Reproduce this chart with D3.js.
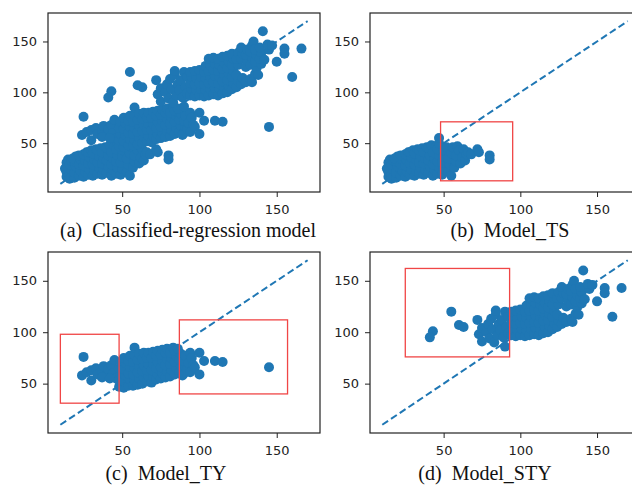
<!DOCTYPE html>
<html>
<head>
<meta charset="utf-8">
<script src="https://cdn.jsdelivr.net/npm/d3@7"></script>
<style>
  html, body { margin: 0; padding: 0; background: #fff; }
  svg { display: block; }
</style>
</head>
<body>
<svg id="fig" width="632" height="489"></svg>
<script>
// Actual (x) vs. predicted (y) values of each sub-model.
const modelTS = [
  [14,17],[14,22],[15,27],[14,31],[15,34],[13,25],
  [16,19],[17,24],[16,29],[17,33],[16,15],
  [19,16],[19,21],[20,27],[19,32],[20,37],[18,35],
  [22,18],[23,23],[22,29],[23,34],[22,38],
  [25,17],[26,22],[25,28],[26,33],[25,39],[27,41],
  [28,19],[29,24],[28,30],[29,36],[28,41],[30,43],
  [31,18],[32,23],[31,29],[32,34],[31,40],[33,44],
  [34,20],[35,26],[34,31],[35,37],[34,43],[36,45],
  [37,19],[38,24],[37,30],[38,35],[37,41],[39,46],
  [40,21],[41,27],[40,33],[41,38],[40,45],[42,48],
  [43,18],[44,24],[43,29],[44,35],[43,41],[45,47],
  [46,20],[47,26],[46,32],[47,38],[46,44],[47,50],[47,55],
  [49,19],[50,25],[49,31],[50,37],[50,43],[52,46],
  [53,22],[54,29],[53,35],[55,40],[56,46],[55,18],
  [57,26],[58,32],[58,38],[59,47],[60,43],[61,30],
  [62,36],[63,44],[64,33],[65,39],[66,41],[68,39],
  [72,44],[73,41],[80,38],[80,34]
];

const modelTY = [
  [25,76],[24,58],[30,53],[27,61],[30,63],[33,65],[34,59],[37,62],
  [38,67],[40,58],[41,64],[43,68],[45,73],[44,60],[46,55],[37,56],[42,55],
  [48,47],[48,53],[49,59],[48,65],[49,71],
  [51,46],[51,52],[52,58],[51,64],[52,70],[51,75],
  [54,48],[55,54],[54,60],[55,66],[54,72],[55,77],
  [57,48],[58,53],[57,59],[58,65],[57,71],[58,78],[58,85],
  [60,49],[61,55],[60,61],[61,67],[60,73],[61,79],
  [63,50],[64,56],[63,62],[64,68],[63,74],[64,80],
  [66,52],[67,57],[66,63],[67,69],[66,75],[67,80],
  [69,51],[70,57],[69,63],[70,69],[69,75],[70,81],
  [72,54],[73,59],[72,65],[73,71],[72,77],[73,82],
  [75,55],[76,60],[75,66],[76,72],[75,78],[76,83],
  [78,56],[79,62],[78,68],[79,74],[78,80],[79,84],
  [81,57],[82,63],[81,69],[82,75],[81,80],[83,85],
  [84,59],[85,65],[84,71],[85,77],[84,82],
  [87,61],[88,67],[87,73],[88,79],[86,84],
  [90,60],[91,66],[90,72],[91,77],[89,58],
  [94,80],[92,64],[93,70],[95,75],[96,68],[94,61],[97,66],
  [100,80],[100,59],[103,72],[110,72],[115,71],[145,66]
];

const modelSTY = [
  [43,101],[41,95],[55,120],[60,107],[63,105],[72,112],[73,98],[75,91],[75,104],
  [78,100],[79,108],[80,94],[81,113],[82,103],[83,90],[84,117],[85,97],[86,108],
  [87,102],[88,112],[89,95],[90,120],[90,86],[91,105],[92,115],[92,99],[84,121],
  [94,97],[95,103],[94,109],[95,115],[94,120],
  [97,96],[98,102],[97,108],[98,114],[97,121],
  [100,97],[101,103],[100,109],[101,115],[100,122],
  [103,96],[104,102],[103,108],[104,114],[103,120],[104,126],
  [106,97],[107,103],[106,109],[107,115],[106,121],[107,127],[106,133],
  [109,98],[110,104],[109,110],[110,116],[109,122],[110,128],[109,134],
  [112,97],[113,103],[112,109],[113,115],[112,121],[113,127],[112,133],
  [115,99],[116,105],[115,111],[116,117],[115,123],[116,129],[115,135],
  [118,100],[119,106],[118,112],[119,118],[118,124],[119,130],[118,136],
  [121,103],[122,109],[121,115],[122,121],[121,127],[122,133],[121,138],
  [124,105],[125,111],[124,117],[125,127],[124,133],[125,139],
  [127,108],[128,114],[127,133],[128,138],[127,144],
  [130,110],[130,125],[131,131],[130,137],[131,142],
  [133,113],[133,127],[134,134],[133,140],[134,146],
  [136,118],[137,124],[136,130],[137,136],[135,150],[136,142],
  [138,117],[140,128],[139,133],[140,139],[141,160],[139,144],
  [142,132],[145,142],[144,147],[147,146],[150,130],[155,143],[155,138],
  [160,115],[166,143],[134,110]
];

// The classified-regression model combines the three sub-models.
const modelClassified = modelTS.concat(modelTY, modelSTY);

const tickValues = [50, 100, 150];
const axisDomain = [2, 178];
const identityLine = [10, 170];

// Highlighted regions: [xMin, xMax, yMin, yMax]
const boxesTS = [[48, 95, 13, 71]];
const boxesTY = [[10, 48, 31, 98], [87, 157, 40, 112]];
const boxesSTY = [[25, 93, 76, 162]];

const captionLabels = ["(a)", "(b)", "(c)", "(d)"];
const captionTexts = ["Classified-regression model", "Model_TS", "Model_TY", "Model_STY"];

// Layout of the four panels (pixel frames) and caption anchors.
const panels = [
  { data: modelClassified, boxes: [],        frame: [48, 13, 320, 192],  cap: [188, 237] },
  { data: modelTS,         boxes: boxesTS,   frame: [370, 13, 640, 192], cap: [510, 237] },
  { data: modelTY,         boxes: boxesTY,   frame: [48, 252, 320, 433], cap: [166, 480] },
  { data: modelSTY,        boxes: boxesSTY,  frame: [370, 252, 640, 433], cap: [485, 480] }
];

const blue = "#1f77b4";
const red = "#f04646";
const ink = "#222";

const svg = d3.select("#fig");

panels.forEach((p, i) => {
  const [x0, y0, x1, y1] = p.frame;
  const x = d3.scaleLinear().domain(axisDomain).range([x0, x1]);
  const y = d3.scaleLinear().domain(axisDomain).range([y1, y0]);
  const g = svg.append("g");

  const clipId = "clip" + i;
  g.append("clipPath").attr("id", clipId)
    .append("rect").attr("x", x0).attr("y", y0)
    .attr("width", x1 - x0).attr("height", y1 - y0);

  const plot = g.append("g").attr("clip-path", `url(#${clipId})`);

  // y = x reference line
  plot.append("path")
    .datum(identityLine)
    .attr("d", d3.line().x(d => x(d)).y(d => y(d)))
    .attr("fill", "none")
    .attr("stroke", blue)
    .attr("stroke-width", 2)
    .attr("stroke-dasharray", "7,3.5");

  // scatter of actual vs predicted
  plot.selectAll("circle")
    .data(p.data)
    .join("circle")
    .attr("cx", d => x(d[0]))
    .attr("cy", d => y(d[1]))
    .attr("r", 5)
    .attr("fill", blue);

  // highlighted regions
  plot.selectAll("rect.box")
    .data(p.boxes)
    .join("rect")
    .attr("class", "box")
    .attr("x", d => x(d[0]))
    .attr("y", d => y(d[3]))
    .attr("width", d => x(d[1]) - x(d[0]))
    .attr("height", d => y(d[2]) - y(d[3]))
    .attr("fill", "none")
    .attr("stroke", red)
    .attr("stroke-width", 1.3);

  // axes
  const ax = g.append("g").attr("transform", `translate(0,${y1})`)
    .call(d3.axisBottom(x).tickValues(tickValues).tickSize(5).tickPadding(8));
  const ay = g.append("g").attr("transform", `translate(${x0},0)`)
    .call(d3.axisLeft(y).tickValues(tickValues).tickSize(5).tickPadding(6));
  [ax, ay].forEach(a => {
    a.select(".domain").remove();
    a.selectAll("line").attr("stroke", ink).attr("stroke-width", 1);
    a.selectAll("text")
      .attr("fill", ink)
      .attr("font-family", "DejaVu Sans, sans-serif")
      .attr("font-size", 13);
  });

  // frame
  g.append("rect")
    .attr("x", x0).attr("y", y0)
    .attr("width", x1 - x0).attr("height", y1 - y0)
    .attr("fill", "none")
    .attr("stroke", ink)
    .attr("stroke-width", 1.2);

  // caption
  svg.append("text")
    .attr("x", p.cap[0]).attr("y", p.cap[1])
    .attr("text-anchor", "middle")
    .attr("font-family", "Liberation Serif, Times New Roman, serif")
    .attr("font-size", 20)
    .attr("fill", "#111")
    .text(captionLabels[i] + "\u00a0\u00a0" + captionTexts[i]);
});
</script>
</body>
</html>
